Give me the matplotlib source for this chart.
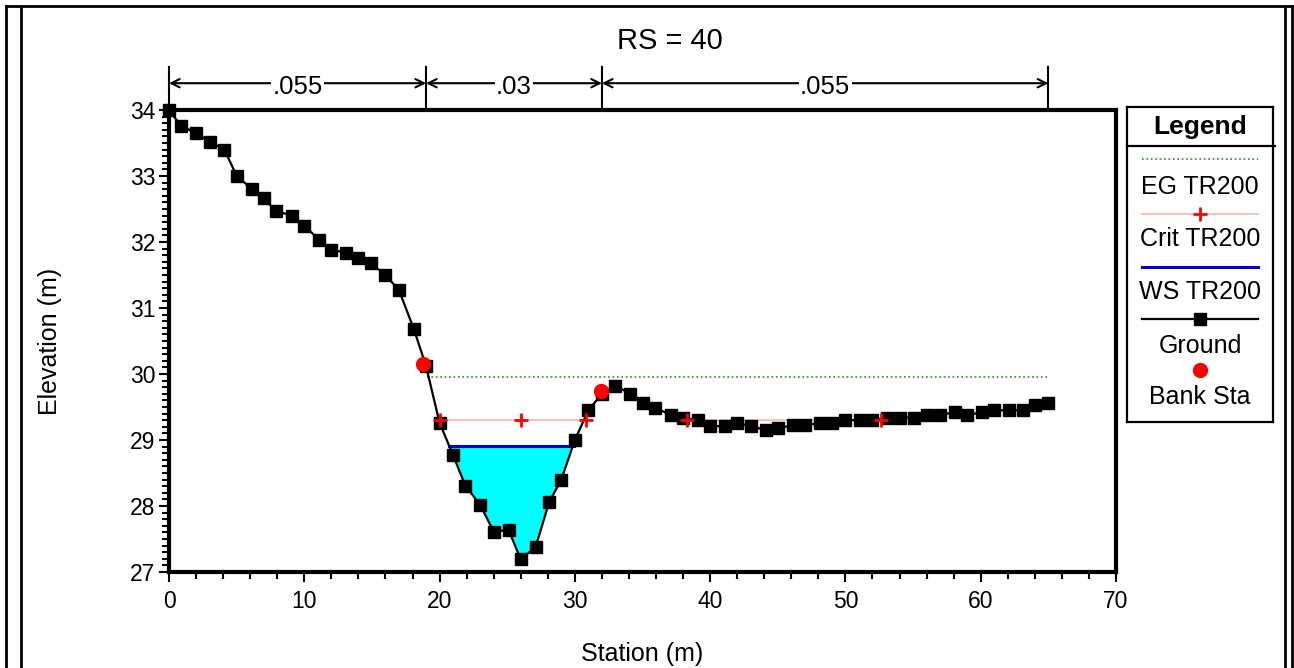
import numpy as np
import matplotlib
matplotlib.use('Agg')
import matplotlib.pyplot as plt
from matplotlib.lines import Line2D

plt.rcParams['font.family'] = ['Liberation Sans', 'DejaVu Sans']

# ground profile (station m, elevation m)
ground_sta = [0, 0.9, 2.0, 3.0, 4.1, 5.0, 6.1, 7.0, 7.9, 9.1, 10.0, 11.1, 12.0, 13.1, 14.0,
              14.9, 16.0, 17.0, 18.1, 19.0,
              20.0, 21.0, 21.9, 23.0, 24.0, 25.1, 26.0, 27.1, 28.1, 29.0, 30.0, 31.0, 32.0,
              33.0, 34.1, 35.0, 35.9, 37.1, 38.0, 39.1, 40.0, 41.1, 42.0, 43.0, 44.1, 45.0,
              46.1, 47.0, 48.1, 49.0, 50.0, 51.1, 52.0, 53.1, 54.0, 55.1, 56.0, 57.0, 58.1,
              59.0, 60.1, 61.0, 62.1, 63.1, 64.0, 65.0]
ground_elev = [34.0, 33.76, 33.65, 33.52, 33.40, 33.00, 32.81, 32.66, 32.47, 32.40, 32.25,
               32.03, 31.88, 31.84, 31.76, 31.68, 31.50, 31.27, 30.68, 30.12,
               29.26, 28.77, 28.31, 28.02, 27.61, 27.64, 27.19, 27.38, 28.06, 28.40, 29.00,
               29.45, 29.70,
               29.82, 29.70, 29.56, 29.49, 29.38, 29.34, 29.30, 29.21, 29.21, 29.26, 29.21,
               29.15, 29.18, 29.22, 29.22, 29.26, 29.26, 29.30, 29.30, 29.30, 29.34, 29.34,
               29.34, 29.38, 29.38, 29.42, 29.38, 29.42, 29.45, 29.45, 29.45, 29.53, 29.56]

eg_sta = [19.05, 65.0]
eg_elev = [29.96, 29.96]

crit_sta = [20.0, 26.0, 30.85, np.nan, 38.3, 52.6]
crit_elev = [29.30, 29.30, 29.30, np.nan, 29.30, 29.30]

ws_sta = [20.7, 29.9]
ws_elev = [28.91, 28.91]

bank_sta = [18.8, 31.9]
bank_elev = [30.15, 29.75]

# manning's n zones
n_bounds = [0, 19, 32, 65]
n_vals = ['.055', '.03', '.055']

legend_names = ['EG TR200', 'Crit TR200', 'WS TR200', 'Ground', 'Bank Sta']

W, H = 1294, 668
fig = plt.figure(figsize=(W / 100, H / 100), dpi=100)
ax = fig.add_axes([169 / W, 1 - 572 / H, (1116 - 169) / W, (572 - 110) / H])

gs = np.array(ground_sta)
ge = np.array(ground_elev)

ax.plot(eg_sta, eg_elev, color='#2e8b2e', linestyle=':', linewidth=1.2, zorder=2)
ax.plot(crit_sta, crit_elev, color='#ffb3b3', linewidth=1.2, zorder=2)
ax.fill_between(gs, ge, ws_elev[0], where=ge < ws_elev[0], interpolate=True,
                color='#00ffff', linewidth=0, zorder=1)
ax.plot(ws_sta, ws_elev, color='#0000cc', linewidth=2.2, zorder=3)
ax.plot(gs, ge, color='black', linewidth=1.6, marker='s', markersize=8,
        clip_on=False, zorder=4)
ax.plot(crit_sta, crit_elev, color='red', linestyle='none', marker='+',
        markersize=10, markeredgewidth=2, zorder=5)
ax.plot(bank_sta, bank_elev, color='red', linestyle='none', marker='o',
        markersize=10, zorder=6)

ax.set_xlim(0, 70)
ax.set_ylim(27, 34)
ax.set_xticks(np.arange(0, 71, 10))
ax.set_xticks(np.arange(0, 71, 2), minor=True)
ax.set_yticks(np.arange(27, 35, 1))
ax.set_yticks(np.arange(27, 34.01, 0.1), minor=True)
ax.tick_params(axis='both', which='major', direction='out', length=7, width=1.5,
               labelsize=16.5)
ax.tick_params(axis='both', which='minor', direction='out', length=5, width=1.5)
ax.tick_params(axis='x', pad=6)
ax.tick_params(axis='y', pad=3)
for sp in ax.spines.values():
    sp.set_linewidth(3)

ax.set_xlabel('Station (m)', fontsize=18)
ax.set_ylabel('Elevation (m)', fontsize=18)
ax.xaxis.set_label_coords(0.5, -0.152)
ax.yaxis.set_label_coords(-0.113, 0.5)

# n-value annotations above the plot
for b in n_bounds:
    ax.plot([b, b], [1.0, 1.093], color='black', linewidth=1.5,
            transform=ax.get_xaxis_transform(), clip_on=False)
for i, v in enumerate(n_vals):
    ax.annotate('', xy=(n_bounds[i], 1.058), xytext=(n_bounds[i + 1], 1.058),
                xycoords=('data', 'axes fraction'), textcoords=('data', 'axes fraction'),
                arrowprops=dict(arrowstyle='<->,head_length=0.6,head_width=0.3',
                                color='black', lw=1.5, shrinkA=0, shrinkB=0))
    ax.text((n_bounds[i] + n_bounds[i + 1]) / 2, 1.05, v, fontsize=18.5,
            ha='center', va='center', transform=ax.get_xaxis_transform(),
            bbox=dict(facecolor='white', edgecolor='none', pad=1))

fig.text(670 / W, 1 - 41 / H, 'RS = 40', fontsize=21, ha='center', va='center')

# legend box
lg = fig.add_axes([1127 / W, 1 - 422 / H, (1273 - 1127) / W, (422 - 107) / H])
lg.set_xlim(0, 146)
lg.set_ylim(315, 0)
lg.set_xticks([])
lg.set_yticks([])
for sp in lg.spines.values():
    sp.set_linewidth(1.6)
lg.text(73, 20, 'Legend', fontsize=19, fontweight='bold', ha='center', va='center')
lg.plot([0, 148], [39, 39], color='black', linewidth=1.6, clip_on=False)
lg.plot([15, 131], [52, 52], color='#2e8b2e', linestyle=':', linewidth=1.2)
lg.plot([15, 131], [107, 107], color='#ffb3b3', linewidth=1.2)
lg.plot([73], [107], color='red', marker='+', markersize=10, markeredgewidth=2)
lg.plot([15, 131], [160, 160], color='#0000cc', linewidth=2.2)
lg.plot([15, 131], [212, 212], color='black', linewidth=1.6)
lg.plot([73], [212], color='black', marker='s', markersize=8)
lg.plot([73], [263], color='red', marker='o', markersize=10)
for name, yy in zip(legend_names, [80, 132, 185, 239, 290]):
    lg.text(73, yy, name, fontsize=18, ha='center', va='center')

# outer frame of the figure
def fline(x0, y0, x1, y1, lw=2):
    fig.add_artist(Line2D([x0 / W, x1 / W], [1 - y0 / H, 1 - y1 / H],
                          color='black', linewidth=lw, transform=fig.transFigure))

fline(6, 6, 1292, 6)
fline(6, 6, 6, 668)
fline(20.5, 6, 20.5, 668)
fline(1284.5, 6, 1284.5, 668)
fline(1292, 6, 1292, 668)

fig.savefig('out.png', dpi=100)
